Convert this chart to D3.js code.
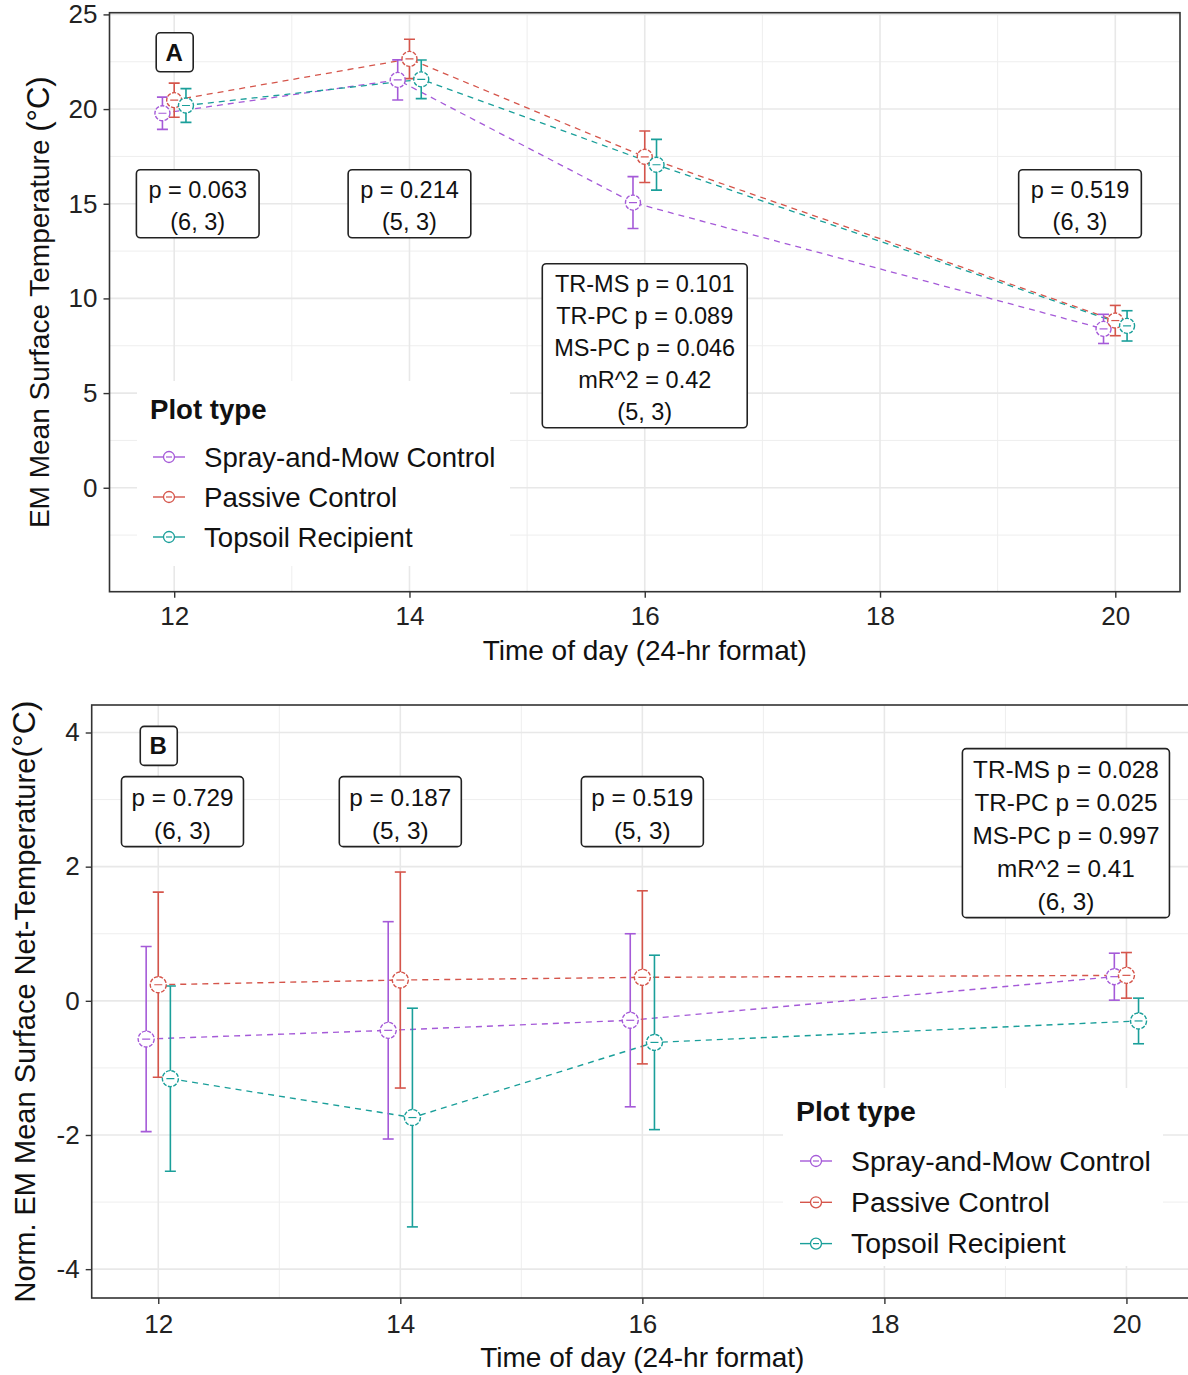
<!DOCTYPE html>
<html>
<head>
<meta charset="utf-8">
<script src="https://cdn.jsdelivr.net/npm/d3@7"></script>
<style>
  body { margin: 0; background: #fff; }
  svg { display: block; }
  text { font-family: "Liberation Sans", Arial, sans-serif; }
</style>
</head>
<body>
<svg id="fig" width="1188" height="1375"></svg>
<script>
// ---- data ----------------------------------------------------------
const hours = [12, 14, 16, 20];
const plotTypes = ["Spray-and-Mow Control", "Passive Control", "Topsoil Recipient"];
const plotColors = ["#a55ad8", "#d5554b", "#1a9f9a"];
const dodgeOffsets = [-0.1, 0, 0.1];

// Panel A: EM mean surface temperature (°C), mean and error half-width
const surfMeanSprayMow = [19.78, 21.54, 15.06, 8.39];
const surfErrSprayMow  = [0.85, 1.06, 1.37, 0.77];
const surfMeanPassive  = [20.47, 22.65, 17.48, 8.83];
const surfErrPassive   = [0.90, 1.04, 1.36, 0.80];
const surfMeanTopsoil  = [20.19, 21.57, 17.06, 8.55];
const surfErrTopsoil   = [0.89, 1.02, 1.34, 0.80];

// Panel B: normalised EM mean surface net-temperature (°C)
const netMeanSprayMow = [-0.57, -0.44, -0.29, 0.36];
const netErrSprayMow  = [1.38, 1.62, 1.29, 0.35];
const netMeanPassive  = [0.24, 0.31, 0.35, 0.38];
const netErrPassive   = [1.38, 1.61, 1.29, 0.34];
const netMeanTopsoil  = [-1.16, -1.74, -0.62, -0.30];
const netErrTopsoil   = [1.38, 1.63, 1.30, 0.34];

const xTicks = [12, 14, 16, 18, 20];
const xTickLabels = ["12", "14", "16", "18", "20"];
const xMinor = [13, 15, 17, 19];
const surfYTicks = [0, 5, 10, 15, 20, 25];
const surfYMinor = [-2.5, 2.5, 7.5, 12.5, 17.5, 22.5];
const netYTicks = [-4, -2, 0, 2, 4];
const netYMinor = [-3, -1, 1, 3];

const surfNoteText = [
  ["p = 0.063", "(6, 3)"],
  ["p = 0.214", "(5, 3)"],
  ["TR-MS p = 0.101", "TR-PC p = 0.089", "MS-PC p = 0.046", "mR^2 = 0.42", "(5, 3)"],
  ["p = 0.519", "(6, 3)"]
];
const netNoteText = [
  ["p = 0.729", "(6, 3)"],
  ["p = 0.187", "(5, 3)"],
  ["p = 0.519", "(5, 3)"],
  ["TR-MS p = 0.028", "TR-PC p = 0.025", "MS-PC p = 0.997", "mR^2 = 0.41", "(6, 3)"]
];

// ---- drawing ---------------------------------------------------------
const svg = d3.select("#fig");
const xDomain = [11.45, 20.55];

function drawPanel(cfg) {
  const g = svg.append("g");
  const x = d3.scaleLinear().domain(xDomain).range([cfg.left, cfg.right]);
  const y = d3.scaleLinear().domain(cfg.yDomain).range([cfg.bottom, cfg.top]);

  const clipId = "clip-" + cfg.tag;
  svg.append("clipPath").attr("id", clipId).append("rect")
    .attr("x", cfg.left).attr("y", cfg.top)
    .attr("width", cfg.right - cfg.left).attr("height", cfg.bottom - cfg.top);

  const grid = g.append("g").attr("clip-path", `url(#${clipId})`);
  // minor grid
  grid.selectAll(".xm").data(xMinor).join("line")
    .attr("x1", d => x(d)).attr("x2", d => x(d))
    .attr("y1", cfg.top).attr("y2", cfg.bottom)
    .attr("stroke", "#eeeeee").attr("stroke-width", 1);
  grid.selectAll(".ym").data(cfg.yMinor).join("line")
    .attr("y1", d => y(d)).attr("y2", d => y(d))
    .attr("x1", cfg.left).attr("x2", cfg.right)
    .attr("stroke", "#eeeeee").attr("stroke-width", 1);
  // major grid
  grid.selectAll(".xM").data(xTicks).join("line")
    .attr("x1", d => x(d)).attr("x2", d => x(d))
    .attr("y1", cfg.top).attr("y2", cfg.bottom)
    .attr("stroke", "#e8e8e8").attr("stroke-width", 1.6);
  grid.selectAll(".yM").data(cfg.yTicks).join("line")
    .attr("y1", d => y(d)).attr("y2", d => y(d))
    .attr("x1", cfg.left).attr("x2", cfg.right)
    .attr("stroke", "#e8e8e8").attr("stroke-width", 1.6);

  // legend background hides the grid behind it
  const lg = cfg.legend;
  g.append("rect").attr("x", lg.x0).attr("y", lg.y0)
    .attr("width", lg.x1 - lg.x0).attr("height", lg.y1 - lg.y0).attr("fill", "#fff");

  const series = cfg.series.map((s, i) => ({
    color: plotColors[i],
    pts: hours.map((h, j) => ({ h: h + dodgeOffsets[i], m: s.mean[j], e: s.err[j] }))
  }));

  const data = g.append("g").attr("clip-path", `url(#${clipId})`);
  const line = d3.line().x(d => x(d.h)).y(d => y(d.m));
  data.selectAll(".ln").data(series).join("path")
    .attr("d", d => line(d.pts)).attr("fill", "none")
    .attr("stroke", d => d.color).attr("stroke-width", cfg.lineW)
    .attr("stroke-dasharray", "6 5");

  const cap = 5.5;
  series.forEach(s => {
    const eb = data.append("g").attr("stroke", s.color).attr("stroke-width", 1.6).attr("fill", "none");
    s.pts.forEach(p => {
      const cx = x(p.h), yt = y(p.m + p.e), yb = y(p.m - p.e);
      eb.append("line").attr("x1", cx).attr("x2", cx).attr("y1", yt).attr("y2", yb);
      eb.append("line").attr("x1", cx - cap).attr("x2", cx + cap).attr("y1", yt).attr("y2", yt);
      eb.append("line").attr("x1", cx - cap).attr("x2", cx + cap).attr("y1", yb).attr("y2", yb);
    });
  });
  series.forEach(s => {
    s.pts.forEach(p => {
      const cx = x(p.h), cy = y(p.m);
      data.append("circle").attr("cx", cx).attr("cy", cy).attr("r", cfg.pointR)
        .attr("fill", "#fff").attr("stroke", s.color).attr("stroke-width", 1.4)
        .attr("stroke-dasharray", "4 1.5");
      data.append("line").attr("x1", cx - 4).attr("x2", cx + 4).attr("y1", cy).attr("y2", cy)
        .attr("stroke", s.color).attr("stroke-width", 1.2);
    });
  });

  // panel border
  g.append("rect").attr("x", cfg.left).attr("y", cfg.top)
    .attr("width", cfg.right - cfg.left).attr("height", cfg.bottom - cfg.top)
    .attr("fill", "none").attr("stroke", "#333").attr("stroke-width", 1.6);

  // axes
  const ax = g.append("g").attr("transform", `translate(0,${cfg.bottom})`)
    .call(d3.axisBottom(x).tickValues(xTicks).tickFormat((d, i) => xTickLabels[i])
      .tickSize(6).tickPadding(cfg.xTickPad));
  const ay = g.append("g").attr("transform", `translate(${cfg.left},0)`)
    .call(d3.axisLeft(y).tickValues(cfg.yTicks).tickFormat(d => String(d))
      .tickSize(6).tickPadding(6));
  [ax, ay].forEach(a => {
    a.select(".domain").remove();
    a.selectAll(".tick line").attr("stroke", "#333").attr("stroke-width", 1.4);
    a.selectAll(".tick text").attr("fill", "#222").attr("font-size", 26)
      .attr("font-family", '"Liberation Sans", Arial, sans-serif');
  });

  // axis titles
  g.append("text").attr("x", (cfg.left + Math.min(cfg.right, 1188 + 5)) / 2).attr("y", cfg.xTitleY)
    .attr("text-anchor", "middle").attr("font-size", 28).attr("fill", "#111")
    .text("Time of day (24-hr format)");
  const yt = g.append("text")
    .attr("transform", `translate(${cfg.yTitleX},${(cfg.top + cfg.bottom) / 2}) rotate(-90)`)
    .attr("text-anchor", "middle").attr("font-size", cfg.yTitleSize).attr("fill", "#111");
  yt.append("tspan").text(cfg.yTitle);
  yt.append("tspan").attr("font-size", cfg.yTitleSize + 3).text("(°C)");

  // annotation labels
  function labelBox(cx, cy, lines, fs, lh, bold) {
    const lgp = g.append("g");
    const h = (lines.length - 1) * lh + cfg.boxPadV;
    const top = cy - h / 2;
    const texts = lines.map((t, i) => lgp.append("text")
      .attr("x", cx).attr("y", top + cfg.firstLine + i * lh + fs * 0.35)
      .attr("text-anchor", "middle").attr("font-size", fs)
      .attr("font-weight", bold ? "bold" : "normal").attr("fill", "#111").text(t));
    const w = d3.max(texts, t => t.node().getComputedTextLength()) + 2 * cfg.boxPadH;
    lgp.insert("rect", "text").attr("x", cx - w / 2).attr("y", top)
      .attr("width", w).attr("height", h).attr("rx", 4)
      .attr("fill", "#fff").attr("stroke", "#222").attr("stroke-width", 1.6);
  }
  cfg.notes.forEach((lines, i) => {
    const [nx, ny] = cfg.notePos[i];
    labelBox(x(nx), y(ny), lines, cfg.noteSize, cfg.noteLine, false);
  });

  // panel tag
  const tg = g.append("g");
  const tx = x(cfg.tagPos[0]), ty = y(cfg.tagPos[1]);
  tg.append("rect").attr("x", tx - 18).attr("y", ty - 19.5).attr("width", 37).attr("height", 39)
    .attr("rx", 4).attr("fill", "#fff").attr("stroke", "#222").attr("stroke-width", 1.6);
  tg.append("text").attr("x", tx).attr("y", ty + 8.5).attr("text-anchor", "middle")
    .attr("font-size", 24).attr("font-weight", "bold").attr("fill", "#111").text(cfg.tag);

  // legend
  const lgG = g.append("g");
  lgG.append("text").attr("x", lg.titleX).attr("y", lg.titleY)
    .attr("font-size", lg.fontSize).attr("font-weight", "bold").attr("fill", "#111").text("Plot type");
  plotTypes.forEach((name, i) => {
    const ky = lg.keyY0 + i * lg.step;
    lgG.append("line").attr("x1", lg.keyX - 16).attr("x2", lg.keyX + 16).attr("y1", ky).attr("y2", ky)
      .attr("stroke", plotColors[i]).attr("stroke-width", 1.4);
    lgG.append("circle").attr("cx", lg.keyX).attr("cy", ky).attr("r", 5.5)
      .attr("fill", "#fff").attr("stroke", plotColors[i]).attr("stroke-width", 1.3);
    lgG.append("line").attr("x1", lg.keyX - 3).attr("x2", lg.keyX + 3).attr("y1", ky).attr("y2", ky)
      .attr("stroke", plotColors[i]).attr("stroke-width", 1.2);
    lgG.append("text").attr("x", lg.textX).attr("y", ky + 9.5)
      .attr("font-size", lg.fontSize).attr("fill", "#111").text(name);
  });
}

drawPanel({
  tag: "A",
  left: 109.5, right: 1180, top: 12.7, bottom: 591.7,
  yDomain: [-5.49, 25.09], yTicks: surfYTicks, yMinor: surfYMinor,
  series: [
    { mean: surfMeanSprayMow, err: surfErrSprayMow },
    { mean: surfMeanPassive, err: surfErrPassive },
    { mean: surfMeanTopsoil, err: surfErrTopsoil }
  ],
  lineW: 1.3, pointR: 7.5, xTickPad: 9,
  xTitleY: 660, yTitleX: 49, yTitleSize: 28, yTitle: "EM Mean Surface Temperature ",
  notes: surfNoteText, notePos: [[12.2, 15], [14, 15], [16, 7.5], [19.7, 15]],
  noteSize: 23.5, noteLine: 32, boxPadV: 36, firstLine: 20, boxPadH: 12,
  tagPos: [12, 23.0],
  legend: { x0: 137, x1: 510, y0: 381, y1: 566, titleX: 150, titleY: 419,
            keyX: 169, keyY0: 457, step: 40, textX: 204, fontSize: 27.6 }
});

drawPanel({
  tag: "B",
  left: 91.7, right: 1193, top: 705, bottom: 1298,
  yDomain: [-4.43, 4.41], yTicks: netYTicks, yMinor: netYMinor,
  series: [
    { mean: netMeanSprayMow, err: netErrSprayMow },
    { mean: netMeanPassive, err: netErrPassive },
    { mean: netMeanTopsoil, err: netErrTopsoil }
  ],
  lineW: 1.4, pointR: 8, xTickPad: 11,
  xTitleY: 1367, yTitleX: 35, yTitleSize: 29, yTitle: "Norm. EM Mean Surface Net-Temperature",
  notes: netNoteText, notePos: [[12.2, 2.82], [14, 2.82], [16, 2.82], [19.5, 2.5]],
  noteSize: 24.3, noteLine: 33, boxPadV: 37, firstLine: 21, boxPadH: 10,
  tagPos: [12, 3.8],
  legend: { x0: 783, x1: 1163, y0: 1088, y1: 1266, titleX: 796, titleY: 1121,
            keyX: 816, keyY0: 1161, step: 41.3, textX: 851, fontSize: 28.4 }
});
</script>
</body>
</html>
